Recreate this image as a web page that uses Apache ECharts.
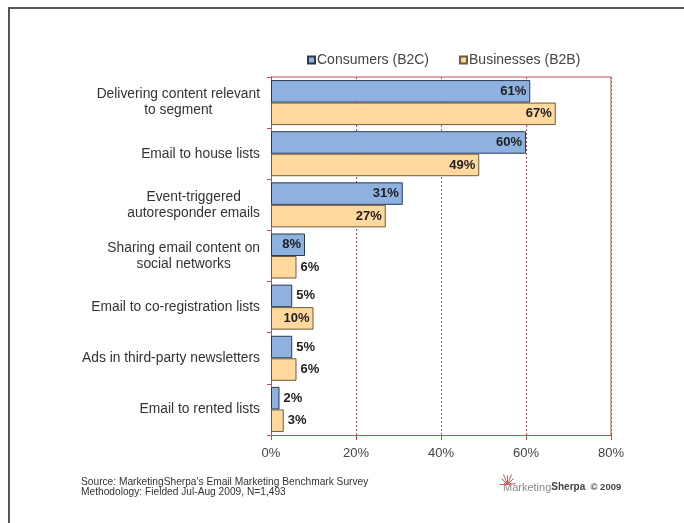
<!DOCTYPE html>
<html>
<head>
<meta charset="utf-8">
<script src="https://cdn.jsdelivr.net/npm/echarts@6/dist/echarts.min.js"></script>
<style>
html,body{margin:0;padding:0;background:#fff;}
#c{width:684px;height:523px;}
</style>
</head>
<body>
<div id="c"></div>
<script>
const categories = [
  "Delivering content relevant\nto segment",
  "Email to house lists",
  "Event-triggered\nautoresponder emails",
  "Sharing email content on\nsocial networks",
  "Email to co-registration lists",
  "Ads in third-party newsletters",
  "Email to rented lists"
];
const consumers = [61, 60, 31, 8, 5, 5, 2];
const businesses = [67, 49, 27, 6, 10, 6, 3];
const seriesNames = ["Consumers (B2C)", "Businesses (B2B)"];
const xTicks = [0, 20, 40, 60, 80];

function toData(vals) {
  return vals.map(v => ({
    value: v,
    label: { position: v >= 8 ? 'insideRight' : 'right' }
  }));
}

const chart = echarts.init(document.getElementById('c'));
const font = 'Arial, "Liberation Sans", sans-serif';
chart.setOption({
  animation: false,
  backgroundColor: '#fff',
  grid: { left: 271, right: 73, top: 77, bottom: 88 },
  legend: {
    top: 48, left: 302,
    itemWidth: 7, itemHeight: 7, itemGap: 30,
    icon: 'rect',
    textStyle: { fontFamily: font, fontSize: 14, color: '#444', padding: [0,0,0,-3] },
    data: seriesNames
  },
  xAxis: {
    type: 'value', min: 0, max: 80, interval: 20,
    axisLine: { show: true, lineStyle: { color: '#c0504d', width: 1 } },
    axisTick: { show: true, length: 5, lineStyle: { color: '#c0504d' } },
    axisLabel: { formatter: v => v + '%', fontFamily: font, fontSize: 13, color: '#444', margin: 12 },
    splitLine: { show: true, lineStyle: { color: '#c0504d', type: [2, 2], width: 1 } }
  },
  yAxis: {
    type: 'category', inverse: true, data: categories,
    axisLine: { show: true, lineStyle: { color: '#c0504d' } },
    axisTick: { show: true, length: 4, lineStyle: { color: '#c0504d' } },
    axisLabel: {
      margin: 11, fontFamily: font, fontSize: 13.8, color: '#333', lineHeight: 16,
      formatter: v => v.split('\n').map(s => '{c|' + s + '}').join('\n'),
      rich: { c: { align: 'center', fontFamily: font, fontSize: 13.8, color: '#333', lineHeight: 16 } }
    }
  },
  graphic: [
    { type: 'line', shape: { x1: 9, y1: 8, x2: 9, y2: 523 }, style: { stroke: '#555', lineWidth: 2 } },
    { type: 'line', shape: { x1: 8, y1: 8, x2: 684, y2: 8 }, style: { stroke: '#555', lineWidth: 2 } },
    { type: 'line', shape: { x1: 271, y1: 77, x2: 611, y2: 77 }, style: { stroke: '#c0504d', lineWidth: 1 } },
    { type: 'line', shape: { x1: 611, y1: 77, x2: 611, y2: 435 }, style: { stroke: '#c0504d', lineWidth: 1 } },
    { type: 'text', left: 81, top: 477, style: {
        text: "Source: MarketingSherpa's Email Marketing Benchmark Survey\nMethodology: Fielded Jul-Aug 2009, N=1,493",
        fontFamily: font, fontSize: 10.2, lineHeight: 10, fill: '#333' } },
    { type: 'text', left: 503, top: 482, style: {
        text: '{m|Marketing}{s|Sherpa}{y|  © 2009}',
        rich: {
          m: { fontFamily: font, fontSize: 11, fill: '#888' },
          s: { fontFamily: font, fontSize: 10, fontWeight: 'bold', fill: '#444' },
          y: { fontFamily: font, fontSize: 9.5, fontWeight: 'bold', fill: '#444' }
        } } },
    { type: 'group', left: 497, top: 472, children: [
        { type: 'line', shape: { x1: 8, y1: 12, x2: 8, y2: 3 }, style: { stroke: '#d9534f', lineWidth: 1 } },
        { type: 'line', shape: { x1: 8, y1: 12, x2: 2, y2: 6 }, style: { stroke: '#d9534f', lineWidth: 1 } },
        { type: 'line', shape: { x1: 8, y1: 12, x2: 14, y2: 6 }, style: { stroke: '#d9534f', lineWidth: 1 } },
        { type: 'line', shape: { x1: 8, y1: 12, x2: 0, y2: 12 }, style: { stroke: '#d9534f', lineWidth: 1 } },
        { type: 'line', shape: { x1: 8, y1: 12, x2: 16, y2: 11 }, style: { stroke: '#d9534f', lineWidth: 1 } },
        { type: 'line', shape: { x1: 8, y1: 12, x2: 4, y2: 2 }, style: { stroke: '#d9534f', lineWidth: 1 } },
        { type: 'line', shape: { x1: 8, y1: 12, x2: 12, y2: 2 }, style: { stroke: '#d9534f', lineWidth: 1 } }
    ] }
  ],
  series: [
    {
      name: seriesNames[0], type: 'bar', data: toData(consumers),
      barGap: '0%', barCategoryGap: '12%',
      itemStyle: { color: '#8fb1df', borderColor: '#2a3a55', borderWidth: 1 },
      label: { show: true, formatter: '{c}%', fontFamily: font, fontSize: 13, fontWeight: 'bold', color: '#1e1e1e', distance: 4 }
    },
    {
      name: seriesNames[1], type: 'bar', data: toData(businesses),
      itemStyle: { color: '#ffd89e', borderColor: '#6e5a3c', borderWidth: 1 },
      label: { show: true, formatter: '{c}%', fontFamily: font, fontSize: 13, fontWeight: 'bold', color: '#1e1e1e', distance: 4 }
    }
  ]
});
</script>
</body>
</html>
